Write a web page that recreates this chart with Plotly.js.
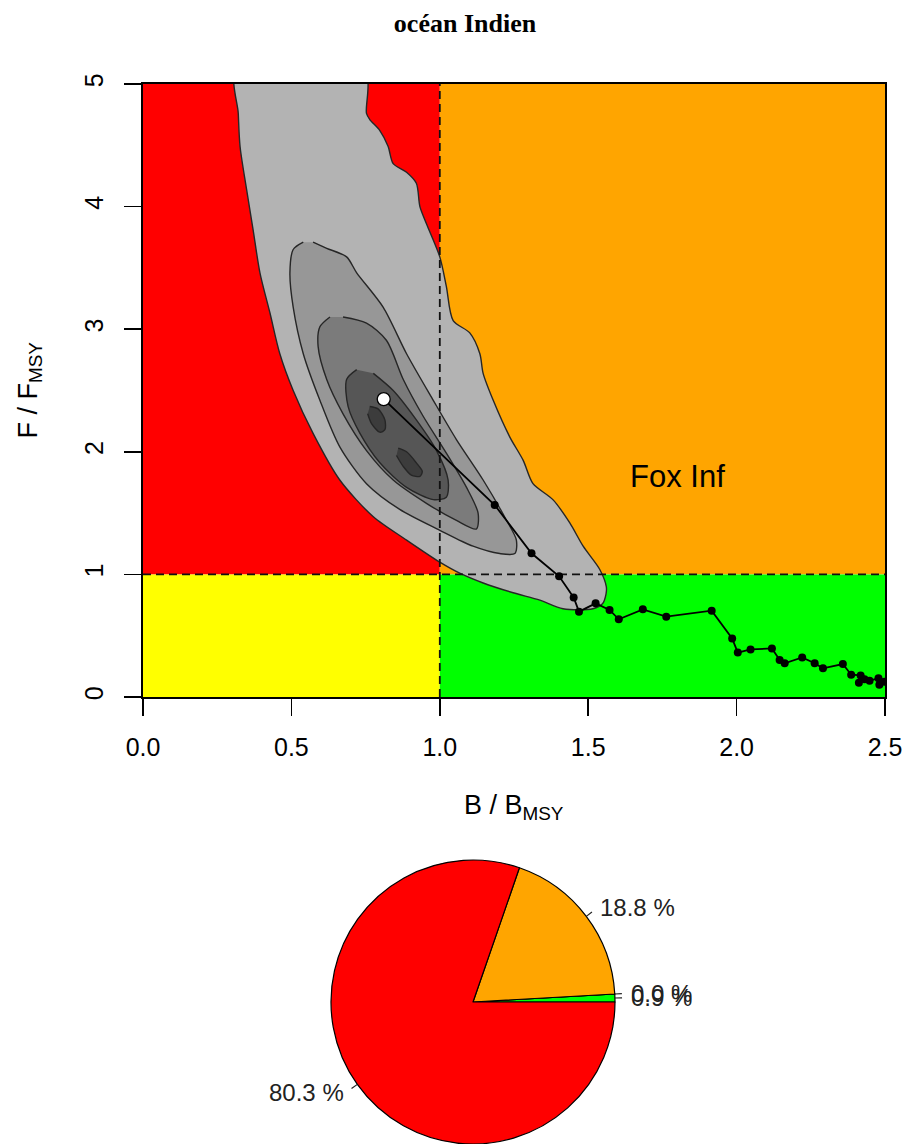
<!DOCTYPE html>
<html><head><meta charset="utf-8">
<script src="https://cdn.plot.ly/plotly-3.0.1.min.js"></script>
<style>html,body{margin:0;padding:0;background:#fff}</style>
</head><body><div id="chart" style="width:908px;height:1144px"></div>
<script>
// ---------- DATA ----------
const chartTitle = 'océan Indien';
const xTickVals = [0, 0.5, 1, 1.5, 2, 2.5];
const xTickText = ['0.0', '0.5', '1.0', '1.5', '2.0', '2.5'];
const yTickVals = [0, 1, 2, 3, 4, 5];
const yTickText = ['0', '1', '2', '3', '4', '5'];
const quadB = [0, 1, 2.5];
const quadF = [0, 1, 5];
const quadColors = {red: '#FF0000', orange: '#FFA500', yellow: '#FFFF00', green: '#00FF00'};

// trajectory (oldest -> latest)
const trajB = [2.498, 2.481, 2.478, 2.448, 2.431, 2.412, 2.418, 2.386, 2.358, 2.291, 2.263, 2.221, 2.162, 2.145, 2.119, 2.047, 2.004, 1.985, 1.916, 1.763, 1.684, 1.603, 1.572, 1.525, 1.469, 1.451, 1.402, 1.309, 1.185];
const trajF = [0.125, 0.100, 0.152, 0.133, 0.144, 0.117, 0.176, 0.182, 0.269, 0.234, 0.275, 0.323, 0.275, 0.302, 0.396, 0.388, 0.362, 0.477, 0.704, 0.655, 0.715, 0.634, 0.710, 0.764, 0.696, 0.812, 0.984, 1.172, 1.566];
const lastB = [0.811];
const lastF = [2.43];

// density contours (outer -> inner)
const c1B = [0.315, 0.747, 0.753, 0.764, 0.798, 0.826, 0.843, 0.888, 0.921, 0.933, 0.955, 1.000, 1.022, 1.045, 1.101, 1.135, 1.146, 1.180, 1.236, 1.281, 1.314, 1.381, 1.438, 1.483, 1.539, 1.561, 1.560, 1.548, 1.516, 1.415, 1.337, 1.247, 1.146, 1.067, 1.000, 0.888, 0.776, 0.663, 0.573, 0.506, 0.461, 0.428, 0.394, 0.371, 0.349, 0.327, 0.321, 0.315];
const c1F = [5.1, 5.1, 4.76, 4.71, 4.62, 4.49, 4.35, 4.28, 4.19, 4.00, 3.86, 3.59, 3.35, 3.07, 2.97, 2.80, 2.64, 2.42, 2.12, 1.93, 1.74, 1.61, 1.42, 1.23, 1.04, 0.90, 0.84, 0.76, 0.72, 0.72, 0.79, 0.85, 0.93, 1.01, 1.10, 1.28, 1.47, 1.77, 2.15, 2.50, 2.80, 3.13, 3.46, 3.81, 4.14, 4.49, 4.76, 5.1];
const c2B = [0.540, 0.506, 0.495, 0.506, 0.540, 0.596, 0.663, 0.753, 0.865, 1.000, 1.112, 1.202, 1.253, 1.258, 1.225, 1.146, 1.056, 0.978, 0.888, 0.809, 0.720, 0.686, 0.619, 0.573];
const c2F = [3.71, 3.65, 3.46, 3.18, 2.80, 2.42, 2.04, 1.74, 1.53, 1.36, 1.23, 1.17, 1.17, 1.28, 1.44, 1.77, 2.10, 2.42, 2.80, 3.18, 3.46, 3.59, 3.66, 3.71];
const c3B = [0.630, 0.596, 0.590, 0.619, 0.674, 0.753, 0.843, 0.955, 1.056, 1.123, 1.129, 1.090, 1.022, 0.944, 0.877, 0.820, 0.753, 0.674];
const c3F = [3.10, 3.02, 2.86, 2.59, 2.31, 2.01, 1.77, 1.58, 1.44, 1.37, 1.50, 1.71, 1.99, 2.29, 2.59, 2.91, 3.05, 3.10];
const c4B = [0.720, 0.686, 0.691, 0.731, 0.798, 0.888, 0.978, 1.022, 1.028, 0.989, 0.921, 0.843, 0.776];
const c4F = [2.67, 2.59, 2.37, 2.15, 1.91, 1.71, 1.61, 1.63, 1.77, 2.01, 2.26, 2.50, 2.64];
const c5aB = [0.764, 0.792, 0.815, 0.815, 0.798, 0.770, 0.757];
const c5aF = [2.37, 2.35, 2.26, 2.18, 2.16, 2.23, 2.31];
const c5bB = [0.860, 0.888, 0.921, 0.941, 0.933, 0.904, 0.877, 0.854];
const c5bF = [2.03, 2.00, 1.91, 1.84, 1.80, 1.81, 1.88, 1.97];
const contourFills = ['#B3B3B3', '#979797', '#7B7B7B', '#565656', '#3C3C3C', '#3C3C3C'];

// pie of quadrant probabilities (counter-clockwise from 3 o'clock)
const pieLabels = ['0.9 %', '0.0 %', '18.8 %', '80.3 %'];
const pieValues = [0.9, 0.0, 18.8, 80.3];
const pieColors = ['#00FF00', '#FFFF00', '#FFA500', '#FF0000'];

const labelText = 'Fox Inf';
const labelB = 1.8, labelF = 1.8;

// ---------- LAYOUT HELPERS ----------
const W = 908, H = 1144;
const px = v => v / W;
const py = v => 1 - v / H;
const plotL = 143, plotR = 885, plotT = 84, plotB = 697;
const pieCx = 473, pieR = 142, pieCy = H - pieR;
const total = pieValues.reduce((a, b) => a + b, 0);

const traces = [];
const contours = [[c1B, c1F], [c2B, c2F], [c3B, c3F], [c4B, c4F], [c5aB, c5aF], [c5bB, c5bF]];
contours.forEach((c, i) => {
  traces.push({
    type: 'scatter', mode: 'lines', x: c[0], y: c[1], fill: 'toself',
    fillcolor: contourFills[i], line: {color: '#262626', width: 1.4, shape: 'spline', smoothing: 0.8},
    hoverinfo: 'skip', showlegend: false
  });
});
// reference dashed lines
traces.push({type: 'scatter', mode: 'lines', x: [quadB[1], quadB[1]], y: [quadF[0], quadF[2]],
  line: {color: '#111', width: 1.8, dash: '8px,5px'}, hoverinfo: 'skip', showlegend: false});
traces.push({type: 'scatter', mode: 'lines', x: [quadB[0], quadB[2]], y: [quadF[1], quadF[1]],
  line: {color: '#111', width: 1.8, dash: '8px,5px'}, hoverinfo: 'skip', showlegend: false});
// trajectory
traces.push({type: 'scatter', mode: 'lines+markers', x: trajB.concat(lastB), y: trajF.concat(lastF),
  line: {color: '#000', width: 1.8}, marker: {color: '#000', size: 8},
  hoverinfo: 'skip', showlegend: false});
traces.push({type: 'scatter', mode: 'markers', x: lastB, y: lastF,
  marker: {color: '#fff', size: 13, line: {color: '#000', width: 1.3}},
  hoverinfo: 'skip', showlegend: false});
// pie
traces.push({
  type: 'pie', values: pieValues, labels: pieLabels, sort: false, direction: 'counterclockwise',
  rotation: 90 - pieValues[0] / total * 360, marker: {colors: pieColors, line: {color: '#000', width: 1.2}},
  textinfo: 'none', hoverinfo: 'skip', showlegend: false,
  domain: {x: [px(pieCx - pieR), px(pieCx + pieR)], y: [0, pieR * 2 / H]}
});

const shapes = [
  {type: 'rect', xref: 'x', yref: 'y', x0: quadB[0], x1: quadB[1], y0: quadF[1], y1: quadF[2], fillcolor: quadColors.red, line: {width: 0}, layer: 'below'},
  {type: 'rect', xref: 'x', yref: 'y', x0: quadB[1], x1: quadB[2], y0: quadF[1], y1: quadF[2], fillcolor: quadColors.orange, line: {width: 0}, layer: 'below'},
  {type: 'rect', xref: 'x', yref: 'y', x0: quadB[0], x1: quadB[1], y0: quadF[0], y1: quadF[1], fillcolor: quadColors.yellow, line: {width: 0}, layer: 'below'},
  {type: 'rect', xref: 'x', yref: 'y', x0: quadB[1], x1: quadB[2], y0: quadF[0], y1: quadF[1], fillcolor: quadColors.green, line: {width: 0}, layer: 'below'}
];

const sans = 'Liberation Sans, Arial, sans-serif';
const annotations = [
  {xref: 'x', yref: 'y', x: labelB, y: labelF, text: labelText, showarrow: false,
   font: {family: sans, size: 31, color: '#000'}},
  {xref: 'paper', yref: 'paper', x: px((plotL + plotR) / 2), y: py(807), text: 'B / B<sub>MSY</sub>',
   showarrow: false, xanchor: 'center', yanchor: 'middle',
   font: {family: sans, size: 27, color: '#000'}},
  {xref: 'paper', yref: 'paper', x: px(29), y: py((plotT + plotB) / 2), text: 'F / F<sub>MSY</sub>',
   showarrow: false, textangle: -90, xanchor: 'center', yanchor: 'middle',
   font: {family: sans, size: 27, color: '#000'}}
];

// pie labels + leader lines, from values
let cum = 0;
pieValues.forEach((v, i) => {
  const mid = (cum + v / 2) / total * 2 * Math.PI;
  cum += v;
  const c = Math.cos(mid), s = Math.sin(mid);
  shapes.push({type: 'line', xref: 'paper', yref: 'paper',
    x0: px(pieCx + pieR * c), y0: py(pieCy - pieR * s),
    x1: px(pieCx + 1.05 * pieR * c), y1: py(pieCy - 1.05 * pieR * s),
    line: {color: '#222', width: 1.2}});
  annotations.push({xref: 'paper', yref: 'paper', x: px(pieCx + 1.1 * pieR * c), y: py(pieCy - 1.1 * pieR * s),
    text: pieLabels[i], showarrow: false, xanchor: c < 0 ? 'right' : 'left', yanchor: 'middle',
    font: {family: sans, size: 24, color: '#222'}});
});

const axisFont = {family: sans, size: 25, color: '#000'};
const layout = {
  width: W, height: H, margin: {l: 0, r: 0, t: 0, b: 0},
  paper_bgcolor: '#fff', plot_bgcolor: '#fff',
  title: {text: chartTitle, x: 465 / W, xanchor: 'center', xref: 'container', y: 1 - 23 / H, yanchor: 'middle', yref: 'container',
    font: {family: 'Liberation Serif, Times New Roman, serif', size: 26, weight: 'bold', color: '#000'}},
  xaxis: {domain: [px(plotL), px(plotR)], range: [quadB[0], quadB[2]], tickvals: xTickVals, ticktext: xTickText,
    ticks: 'outside', ticklen: 17, tickwidth: 1.6, tickcolor: '#000', showgrid: false, zeroline: false,
    showline: true, mirror: true, linecolor: '#000', linewidth: 1.8, tickfont: axisFont, ticklabelstandoff: 10, anchor: 'y'},
  yaxis: {domain: [py(plotB), py(plotT)], range: [quadF[0], quadF[2]], tickvals: yTickVals, ticktext: yTickText,
    ticks: 'outside', ticklen: 17, tickwidth: 1.6, tickcolor: '#000', showgrid: false, zeroline: false, tickangle: -90,
    showline: true, mirror: true, linecolor: '#000', linewidth: 1.8, tickfont: axisFont, ticklabelstandoff: 11, anchor: 'x'},
  shapes: shapes, annotations: annotations, showlegend: false
};
Plotly.newPlot('chart', traces, layout, {staticPlot: true});
</script></body></html>
